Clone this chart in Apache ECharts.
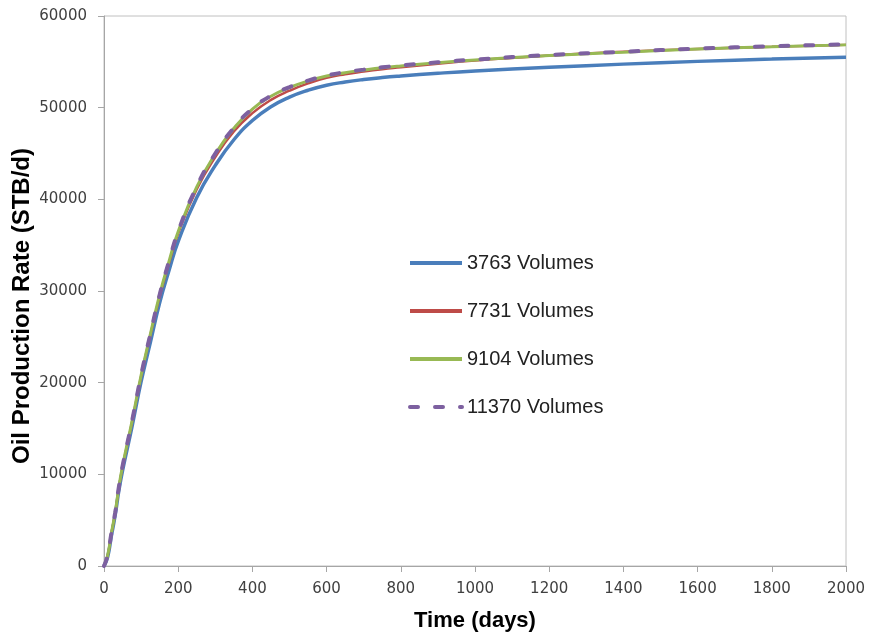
<!DOCTYPE html>
<html>
<head>
<meta charset="utf-8">
<script src="https://cdn.jsdelivr.net/npm/echarts@6/dist/echarts.min.js"></script>
<style>html,body{margin:0;padding:0;background:#fff}#c{width:870px;height:639px}</style>
</head>
<body>
<div id="c"></div>
<script>
const days   = [0, 10, 20, 30, 40, 50, 75, 100, 125, 150, 175, 200, 250, 300, 350, 400, 450, 500, 550, 600, 650, 700, 750, 800, 900, 1000, 1200, 1400, 1600, 1800, 2000];
const v3763  = [0, 1000, 3300, 5500, 8200, 10400, 15100, 20100, 24400, 28700, 32200, 35400, 40200, 43700, 46500, 48600, 50100, 51150, 51900, 52450, 52800, 53070, 53280, 53450, 53750, 54000, 54400, 54750, 55050, 55300, 55500];
const v7731  = [0, 1150, 3550, 5750, 8500, 10800, 15600, 20700, 25200, 29400, 33000, 36300, 41100, 44600, 47400, 49400, 50850, 51850, 52650, 53250, 53650, 53950, 54200, 54400, 54800, 55150, 55700, 56100, 56400, 56650, 56850];
const v9104  = [0, 1200, 3600, 5800, 8600, 10900, 15700, 20800, 25300, 29600, 33200, 36500, 41350, 44950, 47750, 49850, 51250, 52200, 52900, 53450, 53820, 54100, 54350, 54550, 54900, 55200, 55700, 56050, 56400, 56650, 56850];
const v11370 = [0, 1200, 3600, 5800, 8600, 10900, 15700, 20800, 25300, 29600, 33200, 36500, 41400, 45000, 47800, 49900, 51300, 52250, 52950, 53500, 53870, 54150, 54400, 54600, 54950, 55250, 55750, 56100, 56450, 56700, 56900];
const names = ['3763 Volumes', '7731 Volumes', '9104 Volumes', '11370 Volumes'];

const pairs = a => days.map((d, i) => [d, a[i]]);
const chart = echarts.init(document.getElementById('c'));
const lbl = {fontFamily: 'DejaVu Sans', fontSize: 15, color: '#404040', formatter: v => String(v)};
chart.setOption({
  animation: false,
  grid: {left: 104, right: 24, top: 16, bottom: 73, show: true, borderColor: '#c0c0c0', borderWidth: 1, outerBoundsMode: 'none', containLabel: false},
  legend: {
    orient: 'vertical', left: 408, top: 253, padding: 0, itemWidth: 52, itemHeight: 20, itemGap: 28,
    itemStyle: {opacity: 0},
    lineStyle: {width: 4},
    textStyle: {fontFamily: 'Liberation Sans', fontSize: 20, color: '#222', lineHeight: 20},
    data: names
  },
  xAxis: {
    type: 'value', min: 0, max: 2000, interval: 200,
    name: 'Time (days)', nameLocation: 'middle', nameGap: 44, nameMoveOverlap: false,
    nameTextStyle: {fontFamily: 'Liberation Sans', fontWeight: 'bold', fontSize: 22, color: '#000'},
    axisLine: {show: true, lineStyle: {color: '#a6a6a6'}},
    axisTick: {show: true, length: 6, lineStyle: {color: '#a6a6a6'}},
    axisLabel: Object.assign({margin: 16}, lbl),
    splitLine: {show: false}
  },
  yAxis: {
    type: 'value', min: 0, max: 60000, interval: 10000,
    name: 'Oil Production Rate (STB/d)', nameLocation: 'middle', nameGap: 70, nameMoveOverlap: false,
    nameTextStyle: {fontFamily: 'Liberation Sans', fontWeight: 'bold', fontSize: 24, color: '#000', padding: [0, 30, 0, 0]},
    axisLine: {show: true, lineStyle: {color: '#a6a6a6'}},
    axisTick: {show: true, length: 6, lineStyle: {color: '#a6a6a6'}},
    axisLabel: Object.assign({margin: 17}, lbl),
    splitLine: {show: false}
  },
  series: [
    {name: names[0], type: 'line', smooth: 0.5, symbol: 'none', data: pairs(v3763), color: '#4A7EBB', lineStyle: {width: 3.5, color: '#4A7EBB'}},
    {name: names[1], type: 'line', smooth: 0.5, symbol: 'none', data: pairs(v7731), color: '#BE4B48', lineStyle: {width: 2.5, color: '#BE4B48'}},
    {name: names[2], type: 'line', smooth: 0.5, symbol: 'none', data: pairs(v9104), color: '#98B954', lineStyle: {width: 3, color: '#98B954'}},
    {name: names[3], type: 'line', smooth: 0.5, symbol: 'none', data: pairs(v11370), color: '#7D60A0', lineStyle: {width: 4, color: '#7D60A0', type: [8, 17], cap: 'round'}}
  ]
});
</script>
</body>
</html>
